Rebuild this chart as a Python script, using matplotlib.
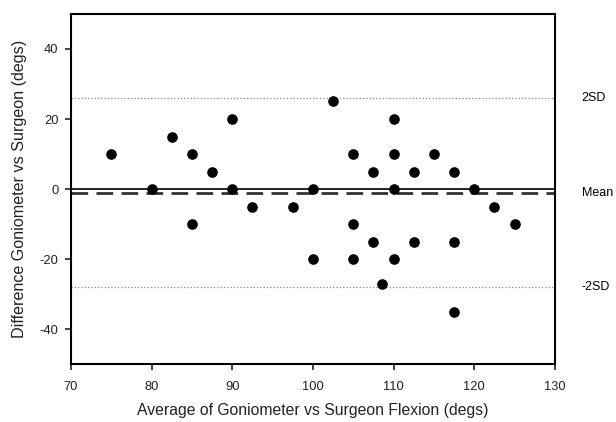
import numpy as np
from matplotlib import pyplot as plt

plt.rcParams['font.family'] = ['Liberation Sans', 'DejaVu Sans']
plt.rcParams['axes.unicode_minus'] = False

# Bland-Altman data: average of the two measurements vs their difference
avg = [75, 80, 82.5, 85, 85, 87.5, 90, 90, 92.5, 97.5,
       100, 100, 102.5, 105, 105, 105, 107.5, 107.5, 108.5,
       110, 110, 110, 110, 112.5, 112.5, 115,
       117.5, 117.5, 117.5, 120, 122.5, 125]
diff = [10, 0, 15, 10, -10, 5, 20, 0, -5, -5,
        0, -20, 25, 10, -10, -20, 5, -15, -27,
        20, 10, 0, -20, 5, -15, 10,
        5, -15, -35, 0, -5, -10]

mean_diff = -1
upper_sd = 26
lower_sd = -28

fig = plt.figure(figsize=(6.16, 4.22), dpi=100)
ax = fig.add_axes([0.115, 0.137, 0.786, 0.83])

ax.axhline(0, color='black', linewidth=1.2)
ax.axhline(mean_diff, color='#333333', linewidth=2, linestyle=(0, (6, 3)))
ax.axhline(upper_sd, color='#888888', linewidth=0.9, linestyle=':')
ax.axhline(lower_sd, color='#888888', linewidth=0.9, linestyle=':')

ax.scatter(avg, diff, s=44, color='black', zorder=3)

ax.set_xlim(70, 130)
ax.set_ylim(-50, 50)
ax.set_xticks([70, 80, 90, 100, 110, 120, 130])
ax.set_yticks([-40, -20, 0, 20, 40])
ax.tick_params(labelsize=9.3, length=4, width=1.2, direction='out', colors='#222222')
ax.tick_params(axis='x', pad=8)
ax.tick_params(axis='y', pad=5)
for sp in ax.spines.values():
    sp.set_linewidth(1.5)

ax.set_xlabel("Average of Goniometer vs Surgeon Flexion (degs)", fontsize=11.3, labelpad=7, color='#222222')
ax.set_ylabel("Difference Goniometer vs Surgeon (degs)", fontsize=11.6, labelpad=9, color='#222222')

lbl = dict(transform=ax.get_yaxis_transform(), fontsize=9, va='center', ha='left', clip_on=False)
ax.text(1.055, upper_sd, "2SD", **lbl)
ax.text(1.055, mean_diff, "Mean", **lbl)
ax.text(1.055, lower_sd, "-2SD", **lbl)

fig.savefig("out.png", dpi=100)
